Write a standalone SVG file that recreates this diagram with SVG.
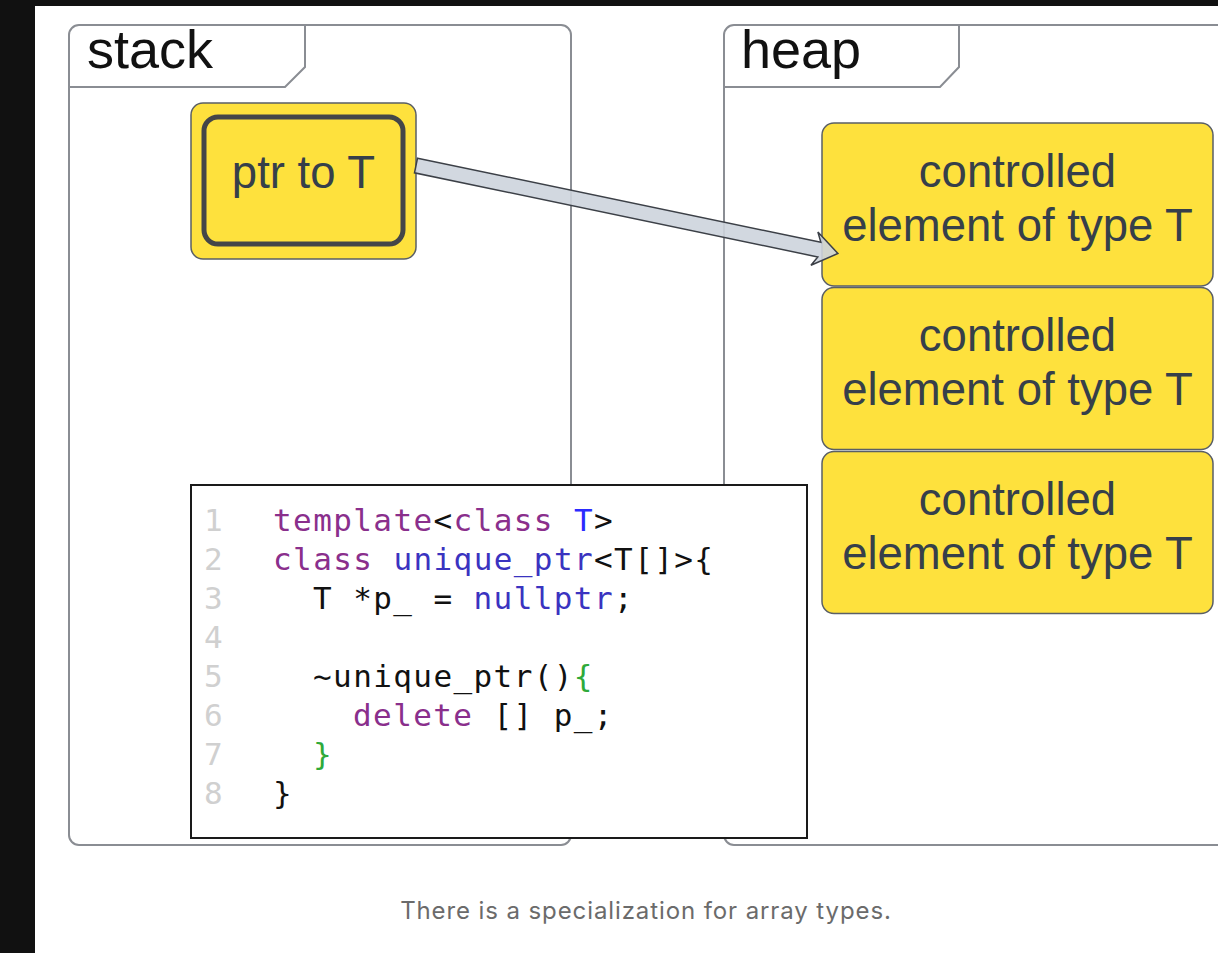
<svg xmlns="http://www.w3.org/2000/svg" width="1218" height="953" viewBox="0 0 1218 953">
  <style>
    .frame { fill: none; stroke: #8a8d93; stroke-width: 2; }
    .frame-label { font-family: "Liberation Sans", Arial, sans-serif; font-size: 54px; fill: #111; }
    .cell { fill: #fee13d; stroke: #5a5f66; stroke-width: 1.5; }
    .cell-text { font-family: "Liberation Sans", Arial, sans-serif; font-size: 45.5px; fill: #363f4a; text-anchor: middle; }
    .code { font-family: "DejaVu Sans Mono", "Liberation Mono", monospace; font-size: 31px; letter-spacing: 1.4px; fill: #111; white-space: pre; }
    .ln { fill: #d0d0d0; }
    .kw { fill: #8a2f8c; }
    .ty { fill: #3a33c0; }
    .tp { fill: #2b2bff; }
    .br { fill: #2eaa3a; }
    .caption { font-family: Inter, "Liberation Sans", sans-serif; font-size: 24px; letter-spacing: 0.9px; fill: #6b6b6b; text-anchor: middle; }
  </style>

  <!-- page background and dark margins -->
  <rect x="0" y="0" width="1218" height="953" fill="#ffffff"/>
  <rect x="0" y="0" width="1218" height="6" fill="#111111"/>
  <rect x="0" y="0" width="35" height="953" fill="#111111"/>

  <!-- stack frame -->
  <g id="stack">
    <rect class="frame" x="69" y="25" width="502" height="820" rx="10"/>
    <path class="frame" d="M69,87 H285 L305,67 V25"/>
    <text class="frame-label" x="87" y="68">stack</text>
  </g>

  <!-- heap frame -->
  <g id="heap">
    <rect class="frame" x="724" y="25" width="620" height="820" rx="10"/>
    <path class="frame" d="M724,87 H940 L959,67 V25"/>
    <text class="frame-label" x="741" y="68">heap</text>
  </g>

  <!-- pointer on the stack -->
  <g id="ptr">
    <rect class="cell" x="191" y="103" width="225" height="156" rx="12"/>
    <rect x="204" y="117" width="199" height="127" rx="14" fill="none" stroke="#444648" stroke-width="5"/>
    <text class="cell-text" x="303.5" y="188" font-size="43">ptr to T</text>
  </g>

  <!-- array elements on the heap -->
  <g id="elem1">
    <rect class="cell" x="822" y="123" width="391" height="163" rx="12"/>
    <text class="cell-text" x="1017.5" y="187">controlled</text>
    <text class="cell-text" x="1017.5" y="241">element of type T</text>
  </g>
  <g id="elem2">
    <rect class="cell" x="822" y="287.5" width="391" height="162" rx="12"/>
    <text class="cell-text" x="1017.5" y="351">controlled</text>
    <text class="cell-text" x="1017.5" y="405">element of type T</text>
  </g>
  <g id="elem3">
    <rect class="cell" x="822" y="451.5" width="391" height="162" rx="12"/>
    <text class="cell-text" x="1017.5" y="515">controlled</text>
    <text class="cell-text" x="1017.5" y="569">element of type T</text>
  </g>

  <!-- pointer arrow, drawn over the boxes it touches -->
  <g id="connectors">
    <g transform="translate(416,165.5) rotate(11.78)">
      <polygon points="0,-7.5 412,-7.5 407,-17 431,0 407,17 412,7.5 0,7.5" fill="#cdd4dd" fill-opacity="0.9" stroke="#3c4047" stroke-width="1.5" stroke-linejoin="miter"/>
    </g>
  </g>

  <!-- code listing -->
  <g id="code">
    <rect x="191" y="485" width="616" height="353" fill="#ffffff" stroke="#1a1a1a" stroke-width="2"/>
    <text class="code ln" x="204" y="531">1</text>
    <text class="code ln" x="204" y="570">2</text>
    <text class="code ln" x="204" y="609">3</text>
    <text class="code ln" x="204" y="648">4</text>
    <text class="code ln" x="204" y="687">5</text>
    <text class="code ln" x="204" y="726">6</text>
    <text class="code ln" x="204" y="765">7</text>
    <text class="code ln" x="204" y="804">8</text>

    <text class="code" x="273" y="531"><tspan class="kw">template</tspan>&lt;<tspan class="kw">class</tspan> <tspan class="tp">T</tspan>&gt;</text>
    <text class="code" x="273" y="570"><tspan class="kw">class</tspan> <tspan class="ty">unique_ptr</tspan>&lt;T[]&gt;{</text>
    <text class="code" x="313" y="609">T *p_ = <tspan class="ty">nullptr</tspan>;</text>
    <text class="code" x="313" y="687">~unique_ptr()<tspan class="br">{</tspan></text>
    <text class="code" x="353" y="726"><tspan class="kw">delete</tspan> [] p_;</text>
    <text class="code br" x="313" y="765">}</text>
    <text class="code" x="273" y="804">}</text>
  </g>

  <text class="caption" x="646" y="919">There is a specialization for array types.</text>
</svg>
